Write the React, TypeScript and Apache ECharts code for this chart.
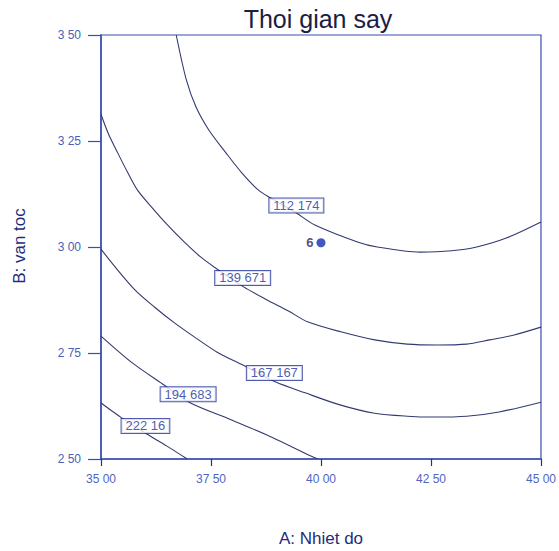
import React, { useEffect, useRef } from "react";
import * as echarts from "echarts";

const xTicks = [35, 37.5, 40, 42.5, 45];
const yTicks = [2.5, 2.75, 3.0, 3.25, 3.5];

const contour112: number[][] = [
  [36.71, 3.5], [36.94, 3.394], [37.16, 3.33], [37.45, 3.276], [37.84, 3.222],
  [38.2, 3.175], [38.58, 3.134], [38.85, 3.116], [39.44, 3.08], [39.86, 3.052],
  [40.83, 3.012], [41.28, 3.0], [42.25, 2.988], [42.97, 2.991], [43.54, 3.0],
  [44.21, 3.021], [45.0, 3.059],
];
const contour139: number[][] = [
  [35.0, 3.313], [35.16, 3.269], [35.38, 3.222], [35.61, 3.175], [35.83, 3.134],
  [36.15, 3.094], [36.51, 3.052], [36.89, 3.012], [37.27, 2.976], [37.61, 2.95],
  [38.24, 2.906], [38.74, 2.877], [39.26, 2.849], [39.71, 2.823], [40.45, 2.8],
  [41.22, 2.781], [41.96, 2.771], [42.64, 2.769], [43.31, 2.771], [43.83, 2.781],
  [44.37, 2.792], [45.0, 2.811],
];
const contour167: number[][] = [
  [35.0, 2.995], [35.32, 2.953], [35.77, 2.899], [36.22, 2.858], [36.67, 2.821],
  [37.12, 2.788], [37.64, 2.752], [38.31, 2.717], [38.96, 2.682], [39.64, 2.656],
  [40.45, 2.627], [41.22, 2.608], [41.96, 2.601], [42.57, 2.599], [43.31, 2.601],
  [44.05, 2.611], [45.0, 2.634],
];
const contour194: number[][] = [
  [35.0, 2.79], [35.72, 2.726], [36.4, 2.677], [37.0, 2.634], [37.97, 2.592],
  [38.87, 2.552], [39.77, 2.507], [39.93, 2.5],
];
const contour222: number[][] = [
  [35.0, 2.632], [35.47, 2.597], [36.04, 2.559], [36.49, 2.531], [36.96, 2.5],
];

const contourLabels = ["112 174", "139 671", "167 167", "194 683", "222 16"];
const labelPositions: number[][] = [
  [39.44, 3.098], [38.22, 2.927], [38.94, 2.703], [36.98, 2.653], [36.01, 2.578],
];

const designPoint: number[][] = [[40.0, 3.01]];
const designPointLabel = "6";

const titleText = "Thoi gian say";
const xName = "A: Nhiet do";
const yName = "B: van toc";

const fmt = (v: number) => v.toFixed(2).replace(".", " ");

export default function App() {
  const ref = useRef<HTMLDivElement>(null);
  useEffect(() => {
    if (!ref.current) return;
    const chart = echarts.init(ref.current, undefined, { renderer: "svg" });
    const axisBlue = "#3a4db0";
    const lineColor = "#333a70";
    const contours = [contour112, contour139, contour167, contour194, contour222];
    const w = chart.getWidth();
    chart.setOption({
      animation: false,
      textStyle: { fontFamily: "Liberation Sans, Arial, sans-serif" },
      grid: {
        left: 101, right: Math.max(0, w - 545), top: 35, bottom: 92,
        show: true, borderColor: axisBlue, borderWidth: 1.2,
        backgroundColor: "transparent",
      },
      graphic: [
        {
          type: "text", x: 318, y: 19,
          style: {
            text: titleText, fontSize: 25, fill: "#1c1c44",
            fontFamily: "Liberation Sans, Arial, sans-serif",
            textAlign: "center", textVerticalAlign: "middle",
          },
        },
        {
          type: "text", x: 321, y: 538,
          style: {
            text: xName, fontSize: 17, fill: "#1e2d7a",
            fontFamily: "Liberation Sans, Arial, sans-serif",
            textAlign: "center", textVerticalAlign: "middle",
          },
        },
        {
          type: "text", x: 19, y: 246, rotation: Math.PI / 2,
          style: {
            text: yName, fontSize: 17, fill: "#1e2d7a",
            fontFamily: "Liberation Sans, Arial, sans-serif",
            textAlign: "center", textVerticalAlign: "middle",
          },
        },
      ],
      xAxis: {
        type: "value", min: xTicks[0], max: xTicks[xTicks.length - 1], interval: 2.5,
        splitLine: { show: false },
        axisLine: { show: true, lineStyle: { color: axisBlue, width: 1.5 } },
        axisTick: { show: true, length: 7, lineStyle: { color: "#2a3570", width: 1.2 } },
        axisLabel: { formatter: fmt, fontSize: 12, color: "#5065c0", margin: 14 },
      },
      yAxis: {
        type: "value", min: yTicks[0], max: yTicks[yTicks.length - 1], interval: 0.25,
        splitLine: { show: false },
        axisLine: { show: true, lineStyle: { color: axisBlue, width: 1.5 } },
        axisTick: { show: true, length: 13, lineStyle: { color: axisBlue, width: 1.2 } },
        axisLabel: { formatter: fmt, fontSize: 12, color: "#4a5fb8", margin: 20 },
      },
      series: [
        ...contours.map((d) => ({
          type: "line", data: d, smooth: 0.3, showSymbol: false, symbol: "none",
          lineStyle: { color: lineColor, width: 1.1 }, z: 2, silent: true,
        })),
        {
          type: "scatter", symbolSize: 0, z: 5,
          data: labelPositions.map((p, i) => ({ value: p, name: contourLabels[i] })),
          label: {
            show: true, position: "inside", formatter: (p: any) => p.name,
            fontSize: 13, color: "#22329a", backgroundColor: "#ffffff",
            borderColor: "#22329a", borderWidth: 1, padding: [1, 4, 0, 4],
          },
        },
        {
          type: "scatter", symbol: "circle", symbolSize: 9, z: 6,
          itemStyle: { color: "#1030b0" },
          data: designPoint,
          label: {
            show: true, position: "left", distance: 3, formatter: designPointLabel,
            fontSize: 13, fontWeight: "bold", color: "#1a2460",
          },
        },
      ],
    });
    return () => chart.dispose();
  }, []);
  return (
    <div
      ref={ref}
      style={{ position: "absolute", left: 0, top: 0, width: 559, height: 551, background: "#fff" }}
    />
  );
}
